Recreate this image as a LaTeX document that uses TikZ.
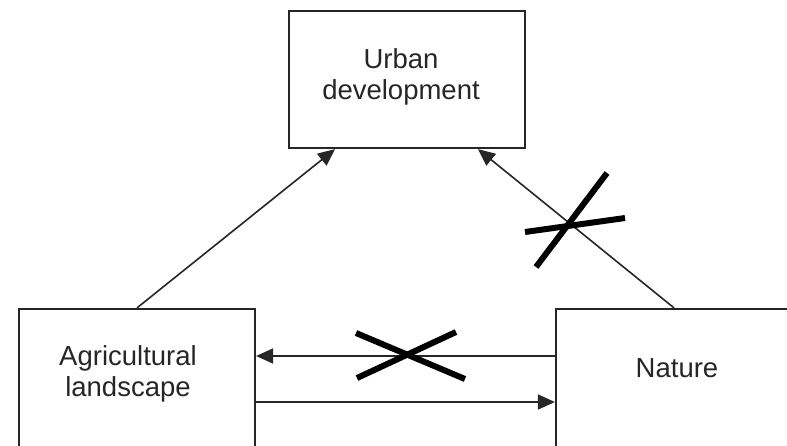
\documentclass[tikz,border=0pt]{standalone}
\usepackage{fontspec}
\setmainfont{Liberation Sans}
\usetikzlibrary{arrows.meta}
\begin{document}
\begin{tikzpicture}[x=1pt,y=-1pt,
  box/.style={draw=black!85,line width=2.2pt,minimum width=236pt,inner sep=0pt},
  lbl/.style={align=center,font=\fontsize{27.5}{31}\selectfont,text=black!85},
  arr/.style={line width=1.6pt,draw=black!85,-{Triangle[length=17pt,width=15pt]}},
  crossline/.style={line width=6pt,draw=black}]
\useasboundingbox (0,0) rectangle (787,445);
\clip (0,0) rectangle (787,445);
\node[box,minimum height=137pt] (urban) at (407,79.5) {};
\node[box,minimum height=161pt] (agri) at (137,389.5) {};
\node[box,minimum height=161pt] (nature) at (674,389.5) {};
\node[lbl] (urbanT) at (401,77) {Urban\\development};
\node[lbl] (agriT) at (128,374) {Agricultural\\landscape};
\node[lbl] (natureT) at (677,368) {Nature};
\draw[arr] (agri.north) -- ([xshift=-72pt]urban.south);
\draw[arr] (nature.north) -- ([xshift=71pt]urban.south);
\draw[arr] (nature.west |- 0,356) -- (agri.east |- 0,356);
\draw[arr] (agri.east |- 0,402) -- (nature.west |- 0,402);
\draw[crossline] (356,333) -- (465,379);
\draw[crossline] (357,378) -- (456,332);
\draw[crossline] (536,267) -- (607,173);
\draw[crossline] (525,232) -- (625,218);
\end{tikzpicture}
\end{document}
